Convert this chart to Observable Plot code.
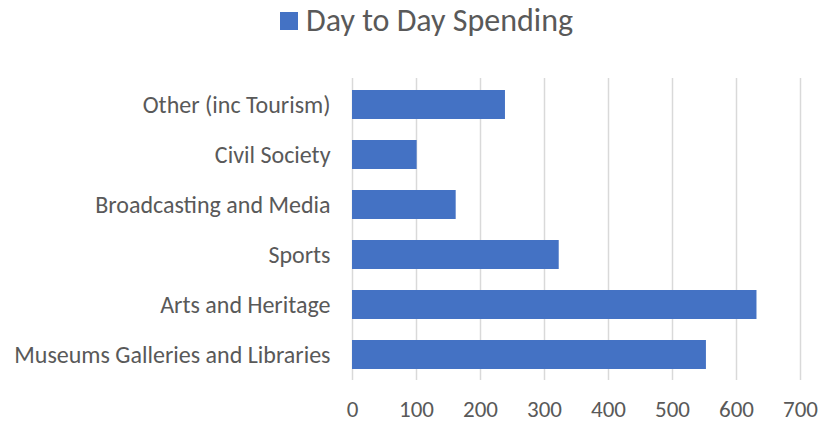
<!DOCTYPE html>
<html>
<head>
<meta charset="utf-8">
<script src="https://cdn.jsdelivr.net/npm/d3@7"></script>
<script src="https://cdn.jsdelivr.net/npm/@observablehq/plot@0.6"></script>
<style>
  body { margin: 0; background: #fff; font-family: Carlito, Calibri, Lato, sans-serif; }
  #legend { position: relative; width: 820px; height: 40px; }
  #legend .sw { position: absolute; left: 280px; top: 12px; width: 18px; height: 18px; background: #4472c4; }
  #legend .lb { position: absolute; left: 306px; top: 0px; font-size: 32px; line-height: 42px; color: #595959; white-space: nowrap; }
  #chart svg { display: block; }
</style>
</head>
<body>
<div id="legend"><div class="sw"></div><div class="lb">Day to Day Spending</div></div>
<div id="chart"></div>
<script>
const categories = ["Museums Galleries and Libraries", "Arts and Heritage", "Sports", "Broadcasting and Media", "Civil Society", "Other (inc Tourism)"];
const values = [553, 632, 323, 162, 101, 239];
const xTicks = [0, 100, 200, 300, 400, 500, 600, 700];
const seriesName = "Day to Day Spending";

const data = categories.map((c, i) => ({category: c, value: values[i]}));
const order = categories.slice().reverse();

const chart = Plot.plot({
  width: 820,
  height: 382,
  marginLeft: 352,
  marginRight: 20,
  marginTop: 38,
  marginBottom: 42,
  style: {fontFamily: "Carlito, Calibri, Lato, sans-serif", fontSize: "24px", color: "#595959", background: "#fff"},
  x: {domain: [0, 700], label: null},
  y: {domain: order, paddingInner: 0.43, paddingOuter: 0.215, label: null},
  marks: [
    Plot.ruleX(xTicks, {stroke: "#d9d9d9", strokeWidth: 1.5}),
    Plot.barX(data, {x: "value", y: "category", fill: "#4472c4"}),
    Plot.axisX({ticks: xTicks, tickSize: 0, tickPadding: 20, fontSize: 23, tickFormat: d => String(d), label: null}),
    Plot.axisY({tickSize: 0, tickPadding: 22, label: null})
  ]
});
document.getElementById("chart").appendChild(chart);
</script>
</body>
</html>
